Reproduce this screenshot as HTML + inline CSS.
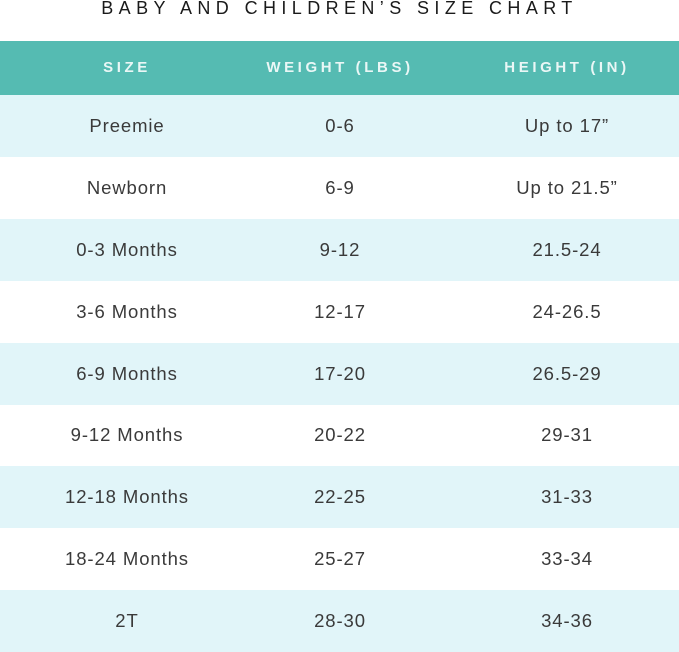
<!DOCTYPE html>
<html><head><style>
body{margin:0;width:679px;height:652px;overflow:hidden;background:#fff;font-family:"Liberation Sans",sans-serif;position:relative}
.t{position:absolute;left:0;width:679px;top:-4px;text-align:center;font-size:18px;letter-spacing:5.4px;color:#1a1a1a;line-height:24px}
.r{position:absolute;left:0;width:679px;height:62px}
.c{position:absolute;top:0;line-height:62px;text-align:center;width:240px;font-size:18.5px;color:#3a3a3a;letter-spacing:.9px}
.h{background:#55bbb2;top:41px;height:54px}
.h .c{line-height:54px;color:#eaf7f6;font-weight:bold;font-size:15px;letter-spacing:3.6px}
.a{background:#e1f5f9}
</style></head><body>
<div class="t">BABY AND CHILDREN’S SIZE CHART</div>
<div class="r h"><div class="c" style="left:7px">SIZE</div><div class="c" style="left:220px">WEIGHT (LBS)</div><div class="c" style="left:447px">HEIGHT (IN)</div></div>
<div class="r a" style="top:95px"><div class="c" style="left:7px">Preemie</div><div class="c" style="left:220px">0-6</div><div class="c" style="left:447px">Up to 17”</div></div>
<div class="r" style="top:157px"><div class="c" style="left:7px">Newborn</div><div class="c" style="left:220px">6-9</div><div class="c" style="left:447px">Up to 21.5”</div></div>
<div class="r a" style="top:219px"><div class="c" style="left:7px">0-3 Months</div><div class="c" style="left:220px">9-12</div><div class="c" style="left:447px">21.5-24</div></div>
<div class="r" style="top:281px"><div class="c" style="left:7px">3-6 Months</div><div class="c" style="left:220px">12-17</div><div class="c" style="left:447px">24-26.5</div></div>
<div class="r a" style="top:343px"><div class="c" style="left:7px">6-9 Months</div><div class="c" style="left:220px">17-20</div><div class="c" style="left:447px">26.5-29</div></div>
<div class="r" style="top:404px"><div class="c" style="left:7px">9-12 Months</div><div class="c" style="left:220px">20-22</div><div class="c" style="left:447px">29-31</div></div>
<div class="r a" style="top:466px"><div class="c" style="left:7px">12-18 Months</div><div class="c" style="left:220px">22-25</div><div class="c" style="left:447px">31-33</div></div>
<div class="r" style="top:528px"><div class="c" style="left:7px">18-24 Months</div><div class="c" style="left:220px">25-27</div><div class="c" style="left:447px">33-34</div></div>
<div class="r a" style="top:590px"><div class="c" style="left:7px">2T</div><div class="c" style="left:220px">28-30</div><div class="c" style="left:447px">34-36</div></div>
</body></html>
